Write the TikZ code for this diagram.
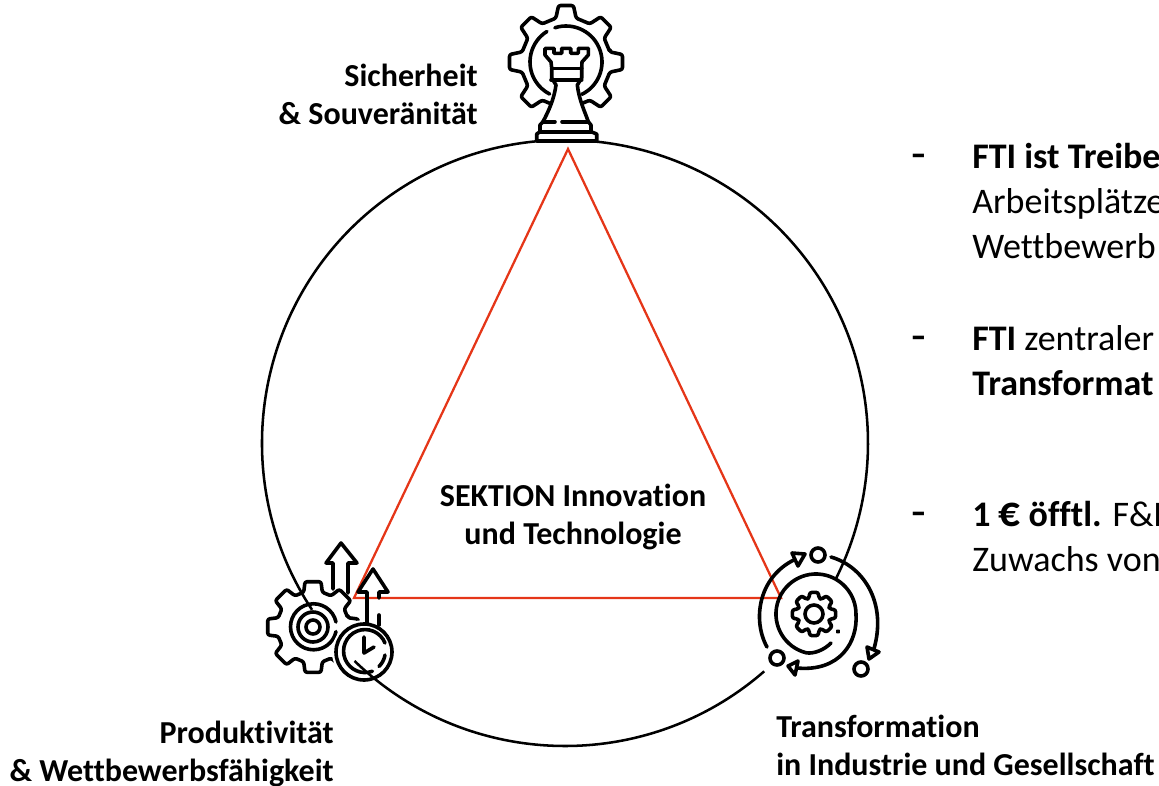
\documentclass[tikz,border=0pt]{standalone}
\usepackage{fontspec}
\usetikzlibrary{calc}
\setmainfont{Carlito}[Ligatures={NoCommon}]
\definecolor{fgred}{RGB}{229,54,24}
\tikzset{
  ringline/.style={line width=1.9pt,black},
  triline/.style={line width=1.7pt,fgred},
  iconline/.style={line width=2.7pt,black,line cap=round,line join=round},
  labeltext/.style={inner sep=0pt,font=\fontsize{24}{28.5}\selectfont\bfseries},
  bodytext/.style={inner sep=0pt,anchor=north west,align=left,font=\fontsize{27}{33.75}\selectfont},
  dashtext/.style={inner sep=0pt,anchor=base west,font=\fontsize{36}{36}\selectfont},
}
% centre x, centre y, tip radius, root radius, tip half angle, root half angle
\newcommand{\gearshape}[6]{%
  \draw [iconline,rounded corners=1.6pt,fill=white]
    ([shift={(#1,#2)}]-#6:#4)
    \foreach \a in {0,45,...,315}{
      -- ([shift={(#1,#2)}]\a-#6:#4) -- ([shift={(#1,#2)}]\a-#5:#3)
      -- ([shift={(#1,#2)}]\a+#5:#3) -- ([shift={(#1,#2)}]\a+#6:#4)
    } -- cycle;}
\begin{document}
\begin{tikzpicture}[x=0.75pt,y=0.75pt,yscale=-1,xscale=1]
\useasboundingbox (0,0) rectangle (1159,785);
\clip (0,0) rectangle (1159,785);
\coordinate (ctr) at (565,443);
\coordinate (apex) at (568,149);
\coordinate (left) at (354,598);
\coordinate (right) at (781,598);

% left icon, gear and clock first
\gearshape{313}{627}{46}{36}{10}{15}
\draw [iconline] (336,622) arc (-12:-348:23);
\draw [iconline] (328,627) arc (0:-300:15) (328,627) arc (0:60:15);
\draw [iconline] (313,627) circle (7);
\draw [line width=2.9pt,white,fill=white] (364,652) circle (30);

% triangle
\draw [triline] (apex) -- (right) -- (left) -- cycle;

% big circle, broken where the two lower icons sit
\draw [ringline] ($(ctr)+(146.6:303)$) arc (146.6:386.6:303);
\draw [ringline] ($(ctr)+(134:303)$) arc (134:48.9:303);

% top icon
\gearshape{566}{62}{57}{45}{7.5}{13}
\draw [iconline] ([shift={(566,62)}]252:36) arc (252:424:36);
\draw [iconline] ([shift={(566,62)}]238:36) arc (238:117:36);
\draw [iconline,fill=white] (545,48.3) -- (554,48.3) -- (554,53.3) -- (561.7,53.3) -- (561.7,48.3) -- (570.7,48.3)
  -- (570.7,53.3) -- (578.3,53.3) -- (578.3,48.3) -- (588.3,48.3) -- (588.3,55) -- (582,62) -- (581.7,68.3)
  -- (581.7,78) -- (577.3,85) .. controls (579,100) and (585,112) .. (588.3,121.7) -- (591,125) -- (591,131.7)
  -- (596.7,134) -- (596.7,141) -- (536.7,141) -- (536.7,134) -- (540,131.7) -- (540,125) -- (543,121.7)
  .. controls (548,112) and (554,100) .. (556,85) -- (551.7,78) -- (551.7,68.3) -- (551,62) -- (545,55) -- cycle;
\draw [iconline] (551.7,68.3) -- (581.7,68.3);
\draw [iconline] (551,80) -- (581.7,80);
\draw [iconline] (543,121.7) -- (555,121.7) (562,121.7) -- (588.3,121.7);
\draw [iconline] (540,131.7) -- (591,131.7);
\draw [line width=2.8pt] (536.7,141) -- (596.7,141);

% arrows and clock of the left icon
\draw [iconline] (333,589) -- (333,563) -- (326,563) -- (341,543) -- (357,563) -- (348,563) -- (348,593);
\draw [iconline] (367,623) -- (367,592) -- (358,592) -- (373,569) -- (388,592) -- (379,592) -- (379,598);
\draw [iconline] (379,615) -- (379,625);
\draw [iconline] (364,652) circle (28);
\draw [iconline] (385,643) arc (-22:-290:21.5);
\draw [iconline] (385,655) arc (10:45:21.5);
\draw [iconline] (364,637) -- (364,653) -- (374,647);

% right icon
\gearshape{814}{614}{22}{16.5}{11}{18}
\draw [iconline] (814,614) circle (9);
\draw [iconline,fill=black] (838,631.5) circle (0.6);
\draw [iconline] (831,643) .. controls (824,650) and (814,654) .. (806.3,652.8) arc (104:360:40)
  .. controls (858,642) and (840,672) .. (797,668);
\draw [iconline,fill=white] (788,666) -- (798,661) -- (795,675) -- cycle;
\draw [iconline] (767,647) .. controls (752,620) and (758,575) .. (798,558);
\draw [iconline,fill=white] (805,554) -- (792,553) -- (798,566) -- cycle;
\draw [iconline] (831,557) .. controls (865,567) and (888,605) .. (873,652);
\draw [iconline,fill=white] (867,647) -- (879,652) -- (869,659) -- cycle;
\draw [iconline] (818,555) circle (7);
\draw [iconline] (777,658) circle (7);
\draw [iconline] (861,669) circle (7);

% labels
\node [labeltext,align=right,anchor=north east] (sicher) at (478,63.5) {Sicherheit\\\& Souveränität};
\node [labeltext,align=right,anchor=north east] (prod) at (334,720.5) {Produktivität\\\& Wettbewerbsfähigkeit};
\node [labeltext,align=left,anchor=north west] (trans) at (776,715) {Transformation\\in Industrie und Gesellschaft};
\node [labeltext,align=center,anchor=north] (sektion) at (573,483.5) {SEKTION Innovation\\und Technologie};

% right hand text, runs off the page
\node [dashtext] (dasha) at (911,169) {-};
\node [bodytext] (fti) at (972,143) {\textbf{FTI ist Treibe}\\Arbeitsplätze\\Wettbewerb};
\node [dashtext] (dashb) at (911,351) {-};
\node [bodytext] (zentral) at (972,325) {\textbf{FTI} zentraler\\\textbf{Transformat}};
\node [dashtext] (dashc) at (911,527) {-};
\node [bodytext] (euro) at (972,501) {\textbf{1 \scalebox{1.2}{€} öfftl.} F\&E\\Zuwachs von};
\end{tikzpicture}
\end{document}
